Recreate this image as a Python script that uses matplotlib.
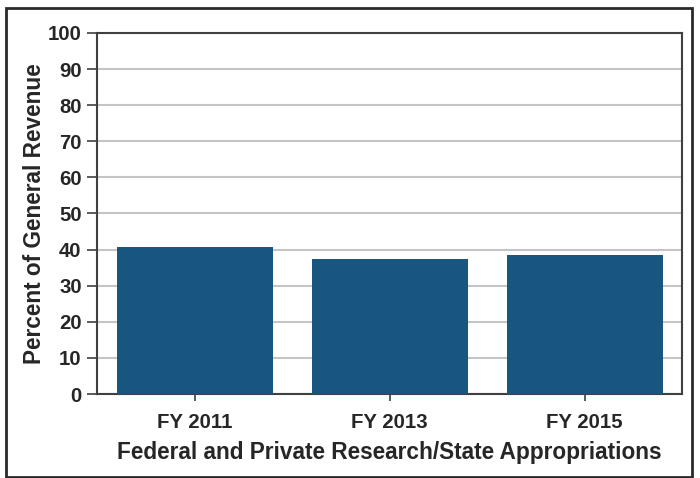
import matplotlib.pyplot as plt
import matplotlib.patches as mpatches
import numpy as np

years = ["FY 2011", "FY 2013", "FY 2015"]
pct_revenue = [40.6, 37.3, 38.5]
y_ticks = list(range(0, 101, 10))

plt.rcParams['font.family'] = ['Liberation Sans', 'DejaVu Sans']
plt.rcParams['font.weight'] = 'bold'

fig = plt.figure(figsize=(7, 4.78), dpi=100)
ax = fig.add_axes([97 / 700, 1 - 394 / 478, 585 / 700, 361 / 478])

x = np.arange(len(years))
ax.bar(x, pct_revenue, width=0.8, color='#18557f', zorder=3)

ax.set_xlim(-0.5, len(years) - 0.5)
ax.set_ylim(0, 100)
ax.set_yticks(y_ticks)
ax.set_xticks(x)
ax.set_xticklabels(years)
ax.yaxis.grid(True, color='#c4c4c4', linewidth=1.5, zorder=0)

for side in ['left', 'bottom', 'top', 'right']:
    ax.spines[side].set_color('#404040')
    ax.spines[side].set_linewidth(1.5)

ax.tick_params(axis='y', length=7, width=1.2, color='#404040', pad=4,
               labelsize=14.7, labelcolor='#262626')
ax.tick_params(axis='x', length=5, width=1.2, color='#404040', pad=9,
               labelsize=14.7, labelcolor='#262626')
for lbl in ax.get_xticklabels() + ax.get_yticklabels():
    lbl.set_fontweight('bold')

ax.set_xlabel("Federal and Private Research/State Appropriations",
              fontsize=16.3, fontweight='bold', color='#262626', labelpad=6)
ax.set_ylabel("Percent of General Revenue",
              fontsize=16.3, fontweight='bold', color='#262626', labelpad=1)

# outer frame around the whole chart
frame = mpatches.Rectangle((6 / 700, 1 / 478), 686 / 700, 469 / 478,
                           transform=fig.transFigure, fill=False,
                           edgecolor='#2a2a2a', linewidth=2)
fig.patches.append(frame)

fig.savefig("out.png", dpi=100)
